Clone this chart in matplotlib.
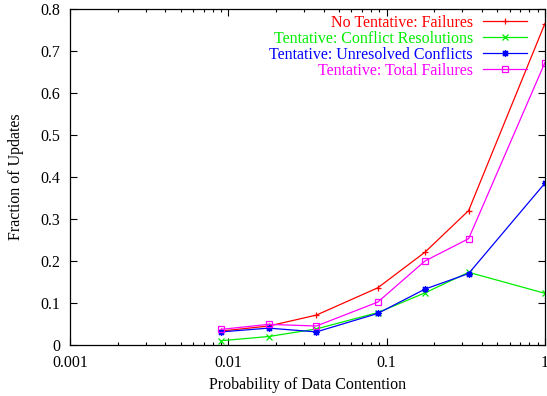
import numpy as np
import matplotlib.pyplot as plt
from matplotlib.ticker import LogLocator, NullFormatter, FixedLocator

# data
prob = [0.009, 0.018, 0.036, 0.088, 0.175, 0.33, 1.0]
no_tent_fail = [0.033, 0.045, 0.071, 0.136, 0.221, 0.32, 0.765]
tent_resolved = [0.010, 0.020, 0.038, 0.077, 0.124, 0.173, 0.123]
tent_unresolved = [0.031, 0.040, 0.031, 0.075, 0.133, 0.170, 0.385]
tent_total = [0.037, 0.049, 0.045, 0.102, 0.200, 0.253, 0.672]

plt.rcParams['font.family'] = ['Liberation Serif', 'DejaVu Serif']
plt.rcParams['font.size'] = 11.5

fig = plt.figure(figsize=(5.47, 3.96), dpi=100)
ax = fig.add_axes([0.128, 0.129, 0.868, 0.848])

ax.plot(prob, no_tent_fail, color='red', lw=0.9, marker='+', ms=5, mew=0.9, label='No Tentative: Failures')
ax.plot(prob, tent_resolved, color='#00ee00', lw=0.9, marker='x', ms=4, mew=0.9, label='Tentative: Conflict Resolutions')
ax.plot(prob, tent_unresolved, color='blue', lw=0.9, marker=(8, 2, 0), ms=5, mew=0.9, label='Tentative: Unresolved Conflicts')
ax.plot(prob, tent_total, color='magenta', lw=0.9, marker='s', ms=4, mew=0.9, mfc='none', label='Tentative: Total Failures')

ax.set_xscale('log')
ax.set_xlim(0.001, 1)
ax.set_ylim(0, 0.8)
ax.xaxis.set_major_locator(FixedLocator([0.001, 0.01, 0.1, 1]))
ax.set_xticklabels(['0.001', '0.01', '0.1', '1'])
ax.xaxis.set_minor_locator(LogLocator(base=10, subs=np.arange(2, 10)))
ax.xaxis.set_minor_formatter(NullFormatter())
ax.set_yticks(np.arange(0, 0.81, 0.1))
ax.set_yticklabels(['0', '0.1', '0.2', '0.3', '0.4', '0.5', '0.6', '0.7', '0.8'])

ax.tick_params(which='both', direction='in', top=True, right=True, width=0.8)
ax.tick_params(which='major', length=5, pad=7)
ax.tick_params(which='minor', length=2.5)
for s in ax.spines.values():
    s.set_linewidth(0.9)

ax.set_xlabel('Probability of Data Contention', labelpad=4.5)
ax.set_ylabel('Fraction of Updates', labelpad=11.5)

leg = ax.legend(loc='upper right', frameon=False, markerfirst=False, handlelength=2.75,
                labelspacing=0.0, borderaxespad=0, borderpad=0, handletextpad=0.63,
                bbox_to_anchor=(527 / 547, 1 - 15 / 396), bbox_transform=fig.transFigure)
for t, l in zip(leg.get_texts(), leg.get_lines()):
    t.set_color(l.get_color())
    t.set_ha('right')

fig.savefig('out.png', dpi=100)
